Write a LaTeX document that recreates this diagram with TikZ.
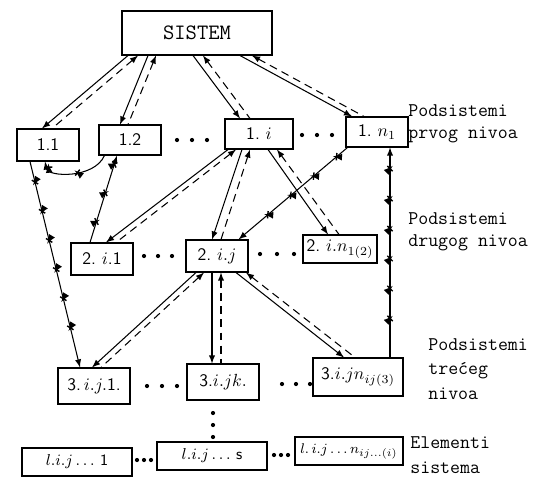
\documentclass[tikz,border=0pt]{standalone}
\usepackage{amsmath}
\usetikzlibrary{calc,arrows,decorations.markings}

\tikzset{
  box/.style 2 args={draw, semithick, minimum width=#1*0.2mm, minimum height=#2*0.2mm, inner sep=0pt, font=\sffamily},
  dol/.style={semithick,-latex},
  gor/.style={semithick,dash pattern=on 4.5pt off 3pt,latex-},
  xline/.style={semithick, postaction={decorate}, decoration={markings, mark=between positions 0.1 and 0.92 step 6mm with {\draw[thick] (-1.5pt,-1.5pt) -- (1.5pt,1.5pt) (-1.5pt,1.5pt) -- (1.5pt,-1.5pt);}}},
  lab/.style={anchor=west, align=left, inner sep=0pt, font=\ttfamily\fontsize{11}{12.5}\selectfont},
  labw/.style={anchor=west, align=left, inner sep=0pt, font=\ttfamily\fontsize{11}{14}\selectfont}
}

\begin{document}
\begin{tikzpicture}[x=0.02cm,y=-0.02cm]
\useasboundingbox (0,0) rectangle (557,487);

% Sistem
\node[box={150}{44},font=\ttfamily\fontsize{12.5}{14}\selectfont] (sys) at (197,33) {SISTEM};

% Prvi nivo
\node[box={62}{32}] (a11) at (48,145) {1.1};
\node[box={62}{30}] (a12) at (130,140) {1.2};
\node[box={68}{30}] (a1i) at (259,134) {1.~$i$};
\node[box={62}{30}] (a1n) at (377,132) {1.~$n_1$};

% Drugi nivo
\node[box={62}{32}] (b21) at (102,259) {2.~$i$.1};
\node[box={62}{32}] (b2j) at (217,256) {2.~$i.j$};
\node[box={74}{28}] (b2n) at (340,249) {2.~$i.n_{1(2)}$};

% Treci nivo
\node[box={72}{36}] (c1) at (94,386) {3.$\,i.j.$1.};
\node[box={72}{36}] (ck) at (223,382) {3.$i.jk.$};
\node[box={90}{38}] (cn) at (358,377) {3.$i.jn_{ij(3)}$};

% Elementi
\node[box={110}{28},font=\sffamily\small] (e1) at (77,462) {$l.i.j\ldots$ 1};
\node[box={110}{28},font=\sffamily\small] (e2) at (212,456) {$l.i.j\ldots$ s};
\node[box={108}{28},font=\sffamily\footnotesize] (e3) at (349,451) {$l.\,i.j\ldots n_{ij\ldots(i)}$};

% Opisi nivoa
\node[lab] (t1) at (408,124) {Podsistemi\\prvog nivoa};
\node[lab] (t2) at (408,232) {Podsistemi\\drugog nivoa};
\node[labw] (t3) at (428,369) {Podsistemi\\trećeg\\nivoa};
\node[labw] (t4) at (410,455) {Elementi\\sistema};

% SISTEM -- prvi nivo
\draw[dol] ($(sys.south)+(-69,0)$) -- ($(a11.north)+(-6,0)$);
\draw[gor] ($(sys.south)+(-59,0)$) -- ($(a11.north)+(4,0)$);
\draw[dol] ($(sys.south)+(-49,0)$) -- ($(a12.north)+(-10,0)$);
\draw[gor] ($(sys.south)+(-41,0)$) -- ($(a12.north)+(-2,0)$);
\draw[dol] ($(sys.south)+(-4,0)$) -- ($(a1i.north)+(-19,0)$);
\draw[gor] ($(sys.south)+(6,0)$) -- ($(a1i.north)+(-9,0)$);
\draw[dol] ($(sys.south)+(43,0)$) -- ($(a1n.north)+(-25,0)$);
\draw[gor] ($(sys.south)+(55,0)$) -- ($(a1n.north)+(-13,0)$);

% 1.i -- drugi nivo
\draw[dol] ($(a1i.south)+(-31,0)$) -- ($(b21.north)+(4,0)$);
\draw[gor] ($(a1i.south)+(-23,0)$) -- ($(b21.north)+(14,0)$);
\draw[dol] ($(a1i.south)+(-17,0)$) -- ($(b2j.north)+(-5,0)$);
\draw[gor] ($(a1i.south)+(-9,0)$) -- ($(b2j.north)+(4,0)$);
\draw[dol] ($(a1i.south)+(9,0)$) -- ($(b2n.north)+(-12,0)$);
\draw[gor] ($(a1i.south)+(18,0)$) -- ($(b2n.north)+(-1,0)$);

% 2.i.j -- treci nivo
\draw[dol] ($(b2j.south)+(-21,0)$) -- ($(c1.north)+(-2,0)$);
\draw[gor] ($(b2j.south)+(-13,0)$) -- ($(c1.north)+(7,0)$);
\draw[dol] ($(b2j.south)+(-5,0)$) -- ($(ck.north)+(-11,0)$);
\draw[gor] ($(b2j.south)+(4,0)$) -- ($(ck.north)+(-2,0)$);
\draw[dol] ($(b2j.south)+(19,0)$) -- ($(cn.north)+(-14,0)$);
\draw[gor] ($(b2j.south)+(29,0)$) -- ($(cn.north)+(-3,0)$);

% Veze izmedju podsistema
\draw[xline,-latex] ($(a11.south)+(-18,0)$) -- ($(c1.north)+(-14,0)$);
\draw[xline,latex-] ($(a12.south)+(-13,0)$) -- ($(b21.north)+(-12,0)$);
\draw[xline,latex-] ($(a11.south)+(-3,0)$) .. controls (48,177) and (94,179) .. ($(a12.south west)+(6,0)$);
\draw[xline,-latex] ($(a1n.south west)+(2,0)$) -- ($(b2j.north east)+(-10,0)$);
\draw[xline,latex-] ($(a1n.south)+(13,0)$) -- ($(cn.north)+(32,0)$);

% Tacke
\foreach \x/\y/\s in {192/140/15, 317/135/15, 158/256/14, 277/254/17, 162/386/15, 296/384/14, 144/460/7, 281/455/7} {
  \foreach \k in {-1,0,1} \fill (\x+\k*\s,\y) circle (1.2pt);
}
\foreach \y in {413,425,437} \fill (213,\y) circle (1.2pt);

\end{tikzpicture}
\end{document}
